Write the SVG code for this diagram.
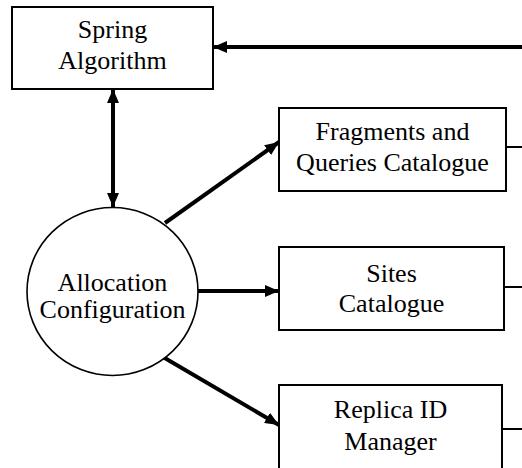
<svg xmlns="http://www.w3.org/2000/svg" width="522" height="468" viewBox="0 0 522 468">
  <style>
    .box { fill: #fff; stroke: #000; stroke-width: 2; }
    .node-circle { fill: #fff; stroke: #000; stroke-width: 1.6; }
    .label { font-family: 'Liberation Serif', 'Times New Roman', serif; font-size: 26px; fill: #000; text-anchor: middle; }
    .flow { stroke: #000; stroke-width: 4; fill: none; }
    .link { stroke: #000; stroke-width: 2; fill: none; }
  </style>
  <defs>
    <marker id="head" markerUnits="userSpaceOnUse" markerWidth="14" markerHeight="12" refX="14" refY="6" orient="auto-start-reverse">
      <path d="M0,0 L14,6 L0,12 Z" fill="#000"/>
    </marker>
  </defs>
  <rect width="522" height="468" fill="#fff"/>

  <g id="connectors">
    <line class="flow" x1="522" y1="47" x2="213" y2="47" marker-end="url(#head)"/>
    <line class="flow" x1="113" y1="89" x2="113" y2="207" marker-start="url(#head)" marker-end="url(#head)"/>
    <line class="flow" x1="165" y1="223" x2="279" y2="142" marker-end="url(#head)"/>
    <line class="flow" x1="198" y1="291" x2="279" y2="291" marker-end="url(#head)"/>
    <line class="flow" x1="163" y1="357" x2="279" y2="425" marker-end="url(#head)"/>
    <line class="link" x1="506" y1="147" x2="522" y2="147"/>
    <line class="link" x1="504" y1="287" x2="522" y2="287"/>
    <line class="link" x1="502" y1="429" x2="522" y2="429"/>
  </g>

  <g id="spring-algorithm">
    <rect class="box" x="12" y="7" width="201" height="82"/>
    <text class="label" x="112.5" y="38">Spring</text>
    <text class="label" x="112.5" y="69">Algorithm</text>
  </g>

  <g id="allocation-configuration">
    <ellipse class="node-circle" cx="112.5" cy="291.5" rx="85.5" ry="84"/>
    <text class="label" x="112.5" y="291">Allocation</text>
    <text class="label" x="112.5" y="318">Configuration</text>
  </g>

  <g id="fragments-queries-catalogue">
    <rect class="box" x="279" y="108" width="227" height="83"/>
    <text class="label" x="392.5" y="140">Fragments and</text>
    <text class="label" x="392.5" y="171">Queries Catalogue</text>
  </g>

  <g id="sites-catalogue">
    <rect class="box" x="279" y="247" width="225" height="83"/>
    <text class="label" x="391.5" y="282">Sites</text>
    <text class="label" x="391.5" y="312">Catalogue</text>
  </g>

  <g id="replica-id-manager">
    <rect class="box" x="279" y="385" width="223" height="100"/>
    <text class="label" x="390.5" y="418">Replica ID</text>
    <text class="label" x="390.5" y="450">Manager</text>
  </g>
</svg>
